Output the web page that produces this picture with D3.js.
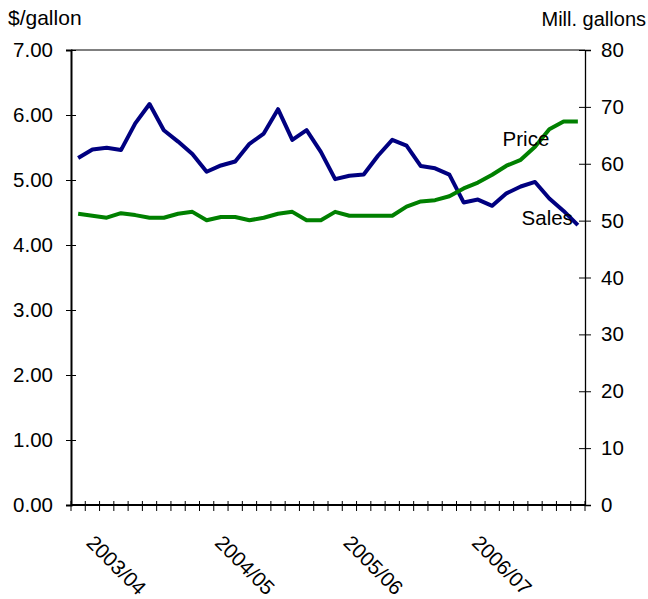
<!DOCTYPE html>
<html>
<head>
<meta charset="utf-8">
<script src="https://cdn.jsdelivr.net/npm/d3@7"></script>
<style>
  html, body { margin: 0; padding: 0; background: #fff; }
  svg text { font-family: "Liberation Sans", Arial, sans-serif; fill: #000; }
</style>
</head>
<body>
<svg id="chart" width="648" height="599"></svg>
<script>
// Heating-season months (9 per season)
const seasons = ["2003/04", "2004/05", "2005/06", "2006/07"];
const monthsPerSeason = 9;

// Retail price, $/gallon (left axis)
const price = [4.48, 4.45, 4.42, 4.49, 4.46, 4.42, 4.42, 4.48, 4.51,
               4.38, 4.43, 4.43, 4.38, 4.42, 4.48, 4.51, 4.38, 4.38,
               4.51, 4.45, 4.45, 4.45, 4.45, 4.59, 4.67, 4.69, 4.75,
               4.87, 4.96, 5.08, 5.22, 5.31, 5.51, 5.78, 5.90, 5.90];

// Sales volume, million gallons (right axis)
const sales = [61.0, 62.5, 62.8, 62.4, 67.1, 70.5, 65.9, 63.9, 61.7,
               58.6, 59.7, 60.4, 63.5, 65.3, 69.6, 64.2, 65.9, 62.1,
               57.3, 57.9, 58.1, 61.4, 64.2, 63.2, 59.6, 59.2, 58.1,
               53.2, 53.7, 52.6, 54.8, 56.0, 56.8, 53.9, 51.7, 49.2];

const leftTicks = [0, 1, 2, 3, 4, 5, 6, 7];
const rightTicks = [0, 10, 20, 30, 40, 50, 60, 70, 80];

const categories = [];
seasons.forEach(s => { for (let m = 0; m < monthsPerSeason; m++) categories.push(s + "#" + m); });

const svg = d3.select("#chart");
const plot = { left: 71, right: 585, top: 50, bottom: 505 };

const x = d3.scaleBand().domain(categories).range([plot.left, plot.right]);
const yL = d3.scaleLinear().domain([0, 7]).range([plot.bottom, plot.top]);
const yR = d3.scaleLinear().domain([0, 80]).range([plot.bottom, plot.top]);
const cx = i => x(categories[i]) + x.bandwidth() / 2;

// top border of plot
svg.append("line")
  .attr("x1", plot.left).attr("x2", plot.right)
  .attr("y1", plot.top).attr("y2", plot.top)
  .attr("stroke", "#000").attr("stroke-width", 1);

// left axis
const gL = svg.append("g").attr("transform", `translate(${plot.left},0)`)
  .call(d3.axisLeft(yL).tickValues(leftTicks).tickFormat(d3.format(".2f")).tickSize(5).tickPadding(13));
gL.select(".domain").attr("stroke-width", 2);
gL.selectAll(".tick line").attr("x1", -5).attr("x2", 5);
gL.selectAll(".tick text").attr("font-size", 20.5).attr("font-family", "Liberation Sans, Arial, sans-serif");

// right axis
const gR = svg.append("g").attr("transform", `translate(${plot.right},0)`)
  .call(d3.axisRight(yR).tickValues(rightTicks).tickSize(6).tickPadding(10));
gR.select(".domain").attr("stroke-width", 1.3);
gR.selectAll(".tick line").attr("x1", -6).attr("x2", 6);
gR.selectAll(".tick text").attr("font-size", 20.5).attr("font-family", "Liberation Sans, Arial, sans-serif");

// bottom category axis: ticks at month boundaries
const gB = svg.append("g");
gB.append("line")
  .attr("x1", plot.left).attr("x2", plot.right)
  .attr("y1", plot.bottom).attr("y2", plot.bottom)
  .attr("stroke", "#000").attr("stroke-width", 2);
const bounds = categories.map(c => x(c)).concat([plot.right]);
gB.selectAll("line.tk").data(bounds).join("line").attr("class", "tk")
  .attr("x1", d => d).attr("x2", d => d)
  .attr("y1", plot.bottom - 4).attr("y2", plot.bottom + 6)
  .attr("stroke", "#000").attr("stroke-width", 1);

// season labels, rotated
gB.selectAll("text.season").data(seasons).join("text").attr("class", "season")
  .attr("transform", (d, i) => `translate(${cx(i * monthsPerSeason) + 7},544) rotate(45)`)
  .attr("font-size", 20.5)
  .text(d => d);

// axis titles
svg.append("text").attr("x", 8).attr("y", 25).attr("font-size", 21).text("$/gallon");
svg.append("text").attr("x", 646).attr("y", 26).attr("font-size", 20)
  .attr("text-anchor", "end").text("Mill. gallons");

// series lines
const lineL = d3.line().x((d, i) => cx(i)).y(d => yL(d));
const lineR = d3.line().x((d, i) => cx(i)).y(d => yR(d));

svg.append("path").datum(sales).attr("d", lineR)
  .attr("fill", "none").attr("stroke", "#000080").attr("stroke-width", 4)
  .attr("stroke-linejoin", "round");
svg.append("path").datum(price).attr("d", lineL)
  .attr("fill", "none").attr("stroke", "#008000").attr("stroke-width", 4)
  .attr("stroke-linejoin", "round");

// series labels
svg.append("text").attr("x", cx(33)).attr("y", yL(5.53))
  .attr("text-anchor", "end").attr("font-size", 20.5).text("Price");
svg.append("text").attr("x", cx(35) - 5).attr("y", yR(sales[35]))
  .attr("text-anchor", "end").attr("font-size", 20.5).text("Sales");
</script>
</body>
</html>
